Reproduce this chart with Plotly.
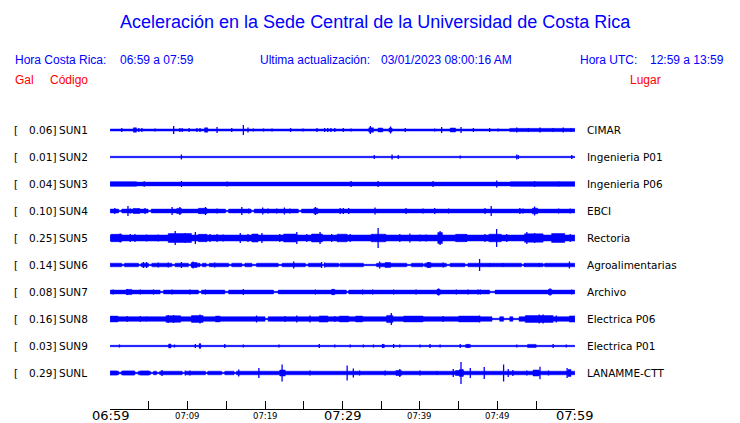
import plotly.graph_objects as go

# ---------------- data ----------------
codes = ["SUN1", "SUN2", "SUN3", "SUN4", "SUN5", "SUN6", "SUN7", "SUN8", "SUN9", "SUNL"]
gal = [0.06, 0.01, 0.04, 0.10, 0.25, 0.14, 0.08, 0.16, 0.03, 0.29]
places = ["CIMAR", "Ingenieria P01", "Ingenieria P06", "EBCI", "Rectoria",
          "Agroalimentarias", "Archivo", "Electrica P06", "Electrica P01", "LANAMME-CTT"]

# minute ticks (minutes after 06:59) and their labels
tick_minutes = [0, 5, 10, 15, 20, 25, 30, 35, 40, 45, 50, 55, 60]
label_minutes = [0, 10, 20, 30, 40, 50, 60]
label_texts = ["06:59", "07:09", "07:19", "07:29", "07:39", "07:49", "07:59"]
label_big = [True, False, False, True, False, False, True]

# background noise half-amplitude of each trace (display units)
base_amp = [1.0, 0.7, 1.9, 1.9, 3.0, 1.8, 1.9, 2.3, 0.7, 1.8]

# spikes: (minute, half-amplitude)
spikes1 = [(1.5, 2), (3.7, 2), (4.1, 2), (5.8, 1.5), (8.2, 4), (9.0, 2), (9.3, 2), (10.2, 2),
           (11.2, 2), (11.6, 2), (13.8, 3), (15.7, 2), (17.2, 5), (17.8, 2.5), (18.5, 1.5),
           (19.8, 1.5), (20.9, 1.5), (23.3, 2), (24.9, 1.5), (26.7, 2), (27.7, 2), (28.1, 2),
           (28.5, 2), (29.0, 2), (30.1, 2), (31.1, 1.5), (33.6, 4), (36.2, 3.5), (38.1, 2),
           (41.9, 1.5), (42.8, 3), (45.3, 3), (46.9, 2), (49.0, 2), (50.1, 1.5), (52.5, 2.5),
           (54.0, 2), (55.5, 2.5), (57.2, 2), (58.5, 2.5), (59.5, 2)]
spikes2 = [(9.2, 2.5), (34.1, 2), (36.4, 2.5), (37.2, 2), (45.2, 1.5), (52.5, 2.5), (52.7, 2),
           (59.6, 2)]
spikes3 = [(4.4, 2.8), (9.2, 3), (15.1, 2.5), (31.1, 3), (34.6, 3), (41.7, 3), (49.9, 3.5),
           (54.8, 3), (57.9, 2.5)]
spikes4 = [(0.6, 3), (2.3, 5), (2.6, 2.5), (3.1, 2.5), (3.7, 2.5), (4.5, 3), (8.0, 4), (9.0, 4),
           (12.3, 4), (13.8, 2.5), (14.4, 2), (17.0, 4), (17.9, 2.5), (19.7, 3.5), (20.4, 2.5),
           (21.5, 2.5), (22.5, 3.5), (23.2, 2.5), (26.5, 4), (29.7, 3), (30.1, 3), (30.8, 3),
           (34.2, 3.5), (38.2, 3), (40.4, 2.5), (41.9, 3), (43.7, 2.5), (48.4, 3), (49.2, 5),
           (52.9, 3), (53.3, 2.5), (54.8, 4.5), (57.9, 2.5), (59.4, 2.5)]
spikes5 = [(1.3, 4.5), (2.6, 4), (3.2, 4), (4.7, 3.5), (6.2, 3.5), (8.4, 7), (9.7, 5), (11.0, 6),
           (12.9, 4), (13.8, 4), (14.6, 3.5), (16.8, 5), (17.8, 4), (19.6, 5), (21.9, 4),
           (24.1, 6), (25.4, 4), (27.1, 6), (28.6, 4), (31.0, 4), (34.6, 10), (37.4, 4),
           (38.7, 4.5), (40.0, 3.5), (40.8, 3.5), (42.6, 7), (46.0, 4), (48.4, 4), (49.9, 9),
           (51.2, 4), (53.8, 6), (54.8, 5), (59.4, 4)]
spikes6 = [(4.3, 3), (4.7, 3), (6.2, 2.5), (7.5, 2.5), (9.2, 3), (10.7, 3.5), (13.5, 2.5),
           (23.7, 3.5), (27.3, 3), (27.7, 2.5), (34.8, 3.5), (41.1, 3), (43.0, 2.5), (47.7, 6),
           (49.0, 2), (50.7, 2), (53.5, 2), (55.4, 2), (59.3, 3.5)]
spikes7 = [(0.4, 2.5), (2.2, 3), (3.9, 2.5), (5.6, 2.5), (8.0, 2.5), (10.3, 2.5), (12.3, 2.5),
           (17.2, 3), (26.5, 2.5), (28.8, 3), (32.6, 2.5), (33.9, 2.5), (36.6, 2.5), (39.5, 2.5),
           (42.4, 3.5), (44.7, 2.5), (46.2, 2.5), (47.5, 2.5), (47.8, 2.5), (56.8, 3.5),
           (59.6, 2.5)]
spikes8 = [(2.2, 3), (3.9, 3), (4.7, 2.5), (7.5, 4), (8.2, 4), (11.6, 4.5), (18.9, 3.5),
           (22.6, 3), (24.1, 3.5), (25.8, 3.5), (29.0, 3), (36.3, 6), (43.0, 3), (47.7, 3.5),
           (55.4, 4.5), (55.9, 4.5), (57.6, 3.5)]
spikes9 = [(1.2, 1.5), (8.3, 1.5), (11.0, 2), (11.6, 2.5), (14.8, 2), (17.2, 1.5), (21.8, 1.5),
           (27.0, 2), (29.0, 1.5), (31.0, 1.5), (32.7, 1.5), (34.0, 1.5), (35.2, 2), (36.6, 2),
           (37.4, 1.5), (40.0, 1.5), (41.3, 2), (42.6, 1.5), (45.2, 2), (46.2, 2), (52.5, 1.5),
           (57.2, 2), (58.9, 1.5)]
spikes10 = [(6.7, 3), (9.7, 2.5), (10.3, 2.5), (16.6, 3.5), (19.2, 5), (22.2, 8.5), (25.8, 2.5),
            (30.6, 7.5), (31.4, 4.5), (32.2, 2.5), (35.5, 2.5), (37.4, 4), (40.0, 2.5),
            (42.2, 2), (44.3, 4), (45.3, 11), (46.5, 5), (48.3, 6), (50.8, 8.5), (51.4, 4),
            (52.0, 3), (53.8, 2.5), (55.5, 6.3), (56.6, 2.5), (59.0, 5)]

# bursts of stronger shaking: (start minute, end minute, half-amplitude)
bursts1 = [(3.0, 3.4, 2.2), (12.2, 12.6, 2.2), (33.4, 34.0, 2.2), (34.6, 35.2, 2.0),
           (36.0, 36.4, 2.0), (43.9, 44.6, 2.0), (51.6, 60.0, 1.6)]
bursts2 = []
bursts3 = [(0.0, 3.4, 2.2), (51.7, 60.0, 2.2)]
bursts4 = [(3.0, 3.8, 2.4), (8.6, 9.2, 2.6), (11.4, 12.5, 2.7), (26.3, 26.8, 2.8),
           (54.5, 55.2, 2.8)]
bursts5 = [(0.1, 1.5, 3.7), (7.5, 10.5, 4.5), (11.4, 12.5, 3.7), (18.3, 19.1, 4.0),
           (22.4, 24.1, 4.0), (26.0, 27.4, 4.0), (29.3, 30.6, 3.8), (33.7, 35.6, 3.8),
           (42.3, 42.9, 5.5), (44.6, 46.0, 3.7), (48.9, 50.5, 3.8), (53.5, 55.9, 4.2),
           (57.0, 58.7, 4.5)]
bursts6 = [(10.5, 11.2, 2.5), (35.5, 36.2, 2.4), (40.9, 41.4, 2.5)]
bursts7 = [(2.1, 2.8, 2.6), (28.6, 29.0, 2.7), (42.2, 42.6, 2.7), (56.6, 57.0, 2.8)]
bursts8 = [(0.0, 1.0, 2.9), (7.2, 9.1, 3.3), (10.5, 12.0, 3.4), (13.6, 14.2, 2.9),
           (27.0, 28.1, 3.1), (29.6, 30.8, 2.9), (31.7, 32.6, 2.9), (35.7, 36.5, 3.6),
           (37.9, 40.4, 2.9), (45.0, 47.7, 2.9), (53.6, 57.2, 3.4), (59.3, 60.0, 3.1)]
bursts9 = [(7.55, 7.85, 2.0), (11.5, 11.7, 2.2), (35.1, 35.4, 1.6), (45.9, 46.5, 1.6),
           (53.9, 55.0, 1.6)]
bursts10 = [(0.0, 0.9, 2.1), (1.6, 3.1, 2.1), (3.9, 5.0, 2.1), (21.9, 22.6, 3.0),
            (36.9, 37.6, 2.5), (44.6, 45.6, 2.5), (45.1, 45.6, 3.5), (54.6, 55.4, 3.0),
            (59.1, 59.5, 3.5)]

# quiet stretches where the trace is only a thin line: (start minute, end minute)
gaps1 = []
gaps2 = []
gaps3 = []
gaps4 = [(1.1, 1.5), (4.9, 5.3), (14.9, 15.3), (18.2, 18.6), (24.3, 24.7)]
gaps5 = []
gaps6 = [(1.5, 1.85), (3.66, 4.0), (4.95, 5.38), (7.96, 8.39), (10.1, 10.45), (11.6, 11.9),
         (12.4, 12.8), (15.3, 15.7), (17.0, 17.4), (18.3, 18.9), (21.7, 22.2), (25.2, 25.6),
         (27.3, 27.7), (29.5, 29.7), (32.7, 34.4), (38.3, 38.9), (40.4, 40.6), (43.4, 43.9),
         (45.8, 46.2), (53.1, 53.5), (55.9, 56.1)]
gaps7 = [(6.45, 6.9), (11.4, 11.8), (14.8, 15.3), (21.1, 21.7), (30.5, 30.8), (49.0, 49.7)]
gaps8 = [(20.0, 20.4), (49.3, 50.3), (50.8, 51.6), (52.0, 52.8)]
gaps9 = []
gaps10 = [(1.1, 1.45), (3.2, 3.65), (5.2, 5.6), (6.0, 6.4), (9.3, 9.8), (12.3, 12.6),
          (14.4, 14.8), (16.0, 16.3)]

spikes = [spikes1, spikes2, spikes3, spikes4, spikes5, spikes6, spikes7, spikes8, spikes9, spikes10]
bursts = [bursts1, bursts2, bursts3, bursts4, bursts5, bursts6, bursts7, bursts8, bursts9, bursts10]
gaps = [gaps1, gaps2, gaps3, gaps4, gaps5, gaps6, gaps7, gaps8, gaps9, gaps10]

# ---------------- layout constants ----------------
W, H = 740, 423
ML, MR, MT, MB = 110, 165, 0, 14
PW = W - ML - MR
PH = H - MT - MB
ROW0, ROW_STEP = 130, 27
THIN = 0.7
T_START, T_END = 0, 60
EDGE = 0.02  # tiny range padding so the end ticks are drawn
BLUE = "#0000ff"
RED = "#ff0000"
PAD = 2.5  # annotation inner offset


def pxx(x):
    return (x - ML) / PW


def pxy(y):
    return (H - MB - y) / PH


def rect(xs, ys, t0, t1, c, a):
    xs += [t0, t1, t1, t0, t0, None]
    ys += [c - a, c - a, c + a, c + a, c - a, None]


poly_x, poly_y = [], []
sp_x, sp_y = [], []
for i in range(len(codes)):
    c = ROW0 + i * ROW_STEP
    # base band, interrupted by quiet stretches
    cur = T_START
    for g0, g1 in sorted(gaps[i]):
        if g0 > cur:
            rect(poly_x, poly_y, cur, g0, c, base_amp[i])
        rect(poly_x, poly_y, g0, g1, c, min(THIN, base_amp[i]))
        cur = g1
    if cur < T_END:
        rect(poly_x, poly_y, cur, T_END, c, base_amp[i])
    for b0, b1, a in bursts[i]:
        rect(poly_x, poly_y, b0, b1, c, a)
    for t, a in spikes[i]:
        sp_x += [t, t, None]
        sp_y += [c - a, c + a, None]

fig = go.Figure()
fig.add_trace(go.Scatter(x=poly_x, y=poly_y, mode="lines", fill="toself", fillcolor=BLUE,
                         line=dict(color=BLUE, width=0.5), hoverinfo="skip", showlegend=False))
fig.add_trace(go.Scatter(x=sp_x, y=sp_y, mode="lines", line=dict(color=BLUE, width=1.3),
                         hoverinfo="skip", showlegend=False))

ann = []
SANS = "Liberation Sans, Arial, sans-serif"
DV = "DejaVu Sans, sans-serif"
ann.append(dict(text="Aceleración en la Sede Central de la Universidad de Costa Rica",
                x=pxx(375), y=pxy(22), xanchor="center", font=dict(family=SANS, size=18, color=BLUE)))
header = [("Hora Costa Rica:", 15.5), ("06:59 a 07:59", 120), ("Ultima actualización:", 260),
          ("03/01/2023 08:00:16 AM", 381.5), ("Hora UTC:", 580.5), ("12:59 a 13:59", 650.5)]
for txt, x in header:
    ann.append(dict(text=txt, x=pxx(x - PAD), y=pxy(60), xanchor="left",
                    font=dict(family=SANS, size=12, color=BLUE)))
for txt, x in [("Gal", 15), ("Código", 50), ("Lugar", 630.5)]:
    ann.append(dict(text=txt, x=pxx(x - PAD), y=pxy(80), xanchor="left",
                    font=dict(family=SANS, size=12, color=RED)))
for i in range(len(codes)):
    c = ROW0 + i * ROW_STEP
    yy = pxy(c)
    f = dict(family=DV, size=10.5, color="black")
    ann.append(dict(text="[", x=pxx(14 - PAD), y=yy, xanchor="left", font=f))
    ann.append(dict(text=f"{gal[i]:.2f}]", x=pxx(55.5 + PAD), y=yy, xanchor="right", font=f))
    ann.append(dict(text=codes[i], x=pxx(59 - PAD), y=yy, xanchor="left", font=f))
    ann.append(dict(text=places[i], x=pxx(587 - PAD), y=yy, xanchor="left", font=f))
for m, txt, big in zip(label_minutes, label_texts, label_big):
    ann.append(dict(text=txt, x=m, xref="x", y=pxy(415.5), yref="paper", xanchor="center",
                    font=dict(family=DV, size=13 if big else 8.5, color="black")))
for a in ann:
    a.setdefault("xref", "paper")
    a.setdefault("yref", "paper")
    a.setdefault("yanchor", "middle")
    a["showarrow"] = False

fig.update_layout(
    width=W, height=H, margin=dict(l=ML, r=MR, t=MT, b=MB, pad=0),
    paper_bgcolor="white", plot_bgcolor="white",
    xaxis=dict(range=[T_START - EDGE, T_END + EDGE], showgrid=False, zeroline=False,
               showline=True, linecolor="black", linewidth=1, ticks="inside", ticklen=8,
               tickwidth=1, tickcolor="black", tickvals=tick_minutes, showticklabels=False,
               fixedrange=True),
    yaxis=dict(range=[H - MB, 0], visible=False, fixedrange=True),
    annotations=ann, showlegend=False,
)
fig.write_html("out.html", config={"displayModeBar": False})

# remove the browser's default page margin so the figure sits at the window origin
with open("out.html", encoding="utf-8") as fh:
    page = fh.read()
page = page.replace("<head>", "<head><style>html,body{margin:0;padding:0;overflow:hidden}</style>", 1)
with open("out.html", "w", encoding="utf-8") as fh:
    fh.write(page)
